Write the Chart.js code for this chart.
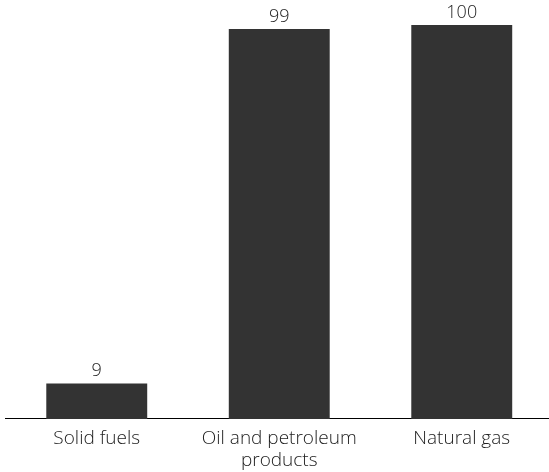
<!DOCTYPE html>
<html>
<head>
<meta charset="utf-8">
<script src="https://cdn.jsdelivr.net/npm/chart.js@4"></script>
<style>
  html, body { margin: 0; padding: 0; background: #fff; overflow: hidden; }
  #wrap { width: 553px; height: 472px; }
</style>
</head>
<body>
<div id="wrap"><canvas id="myChart"></canvas></div>
<script>
const categories = ["Solid fuels", ["Oil and petroleum", "products"], "Natural gas"];
const values = [9, 99, 100];

const FONT = "'Open Sans', 'Segoe UI', sans-serif";

// value labels above each bar
const topLabels = {
  id: "topLabels",
  afterDatasetsDraw(chart) {
    const ctx = chart.ctx;
    const meta = chart.getDatasetMeta(0);
    ctx.save();
    ctx.font = "300 18px " + FONT;
    ctx.fillStyle = "#222";
    ctx.textAlign = "center";
    ctx.textBaseline = "alphabetic";
    meta.data.forEach((bar, i) => {
      ctx.fillText(values[i], bar.x, bar.y - 7);
    });
    ctx.restore();
  },
};

const newChart = document.getElementById("myChart").getContext("2d");
const myChart = new Chart(newChart, {
  type: "bar",
  data: {
    labels: categories,
    datasets: [
      {
        data: values,
        backgroundColor: "#333333",
        categoryPercentage: 1,
        barPercentage: 0.553,
      },
    ],
  },
  options: {
    responsive: true,
    maintainAspectRatio: false,
    animation: false,
    layout: { padding: { top: 25, left: 5.5, right: 0, bottom: -9 } },
    plugins: {
      legend: { display: false },
      tooltip: { enabled: false },
    },
    scales: {
      x: {
        grid: { display: false, drawTicks: false },
        border: { display: true, color: "#000", width: 1 },
        ticks: {
          color: "#222",
          padding: 9,
          maxRotation: 0,
          font: { family: FONT, size: 19, weight: 300, lineHeight: 1.16 },
        },
      },
      y: {
        display: false,
        min: 0,
        max: 100,
      },
    },
  },
  plugins: [topLabels],
});
</script>
</body>
</html>
